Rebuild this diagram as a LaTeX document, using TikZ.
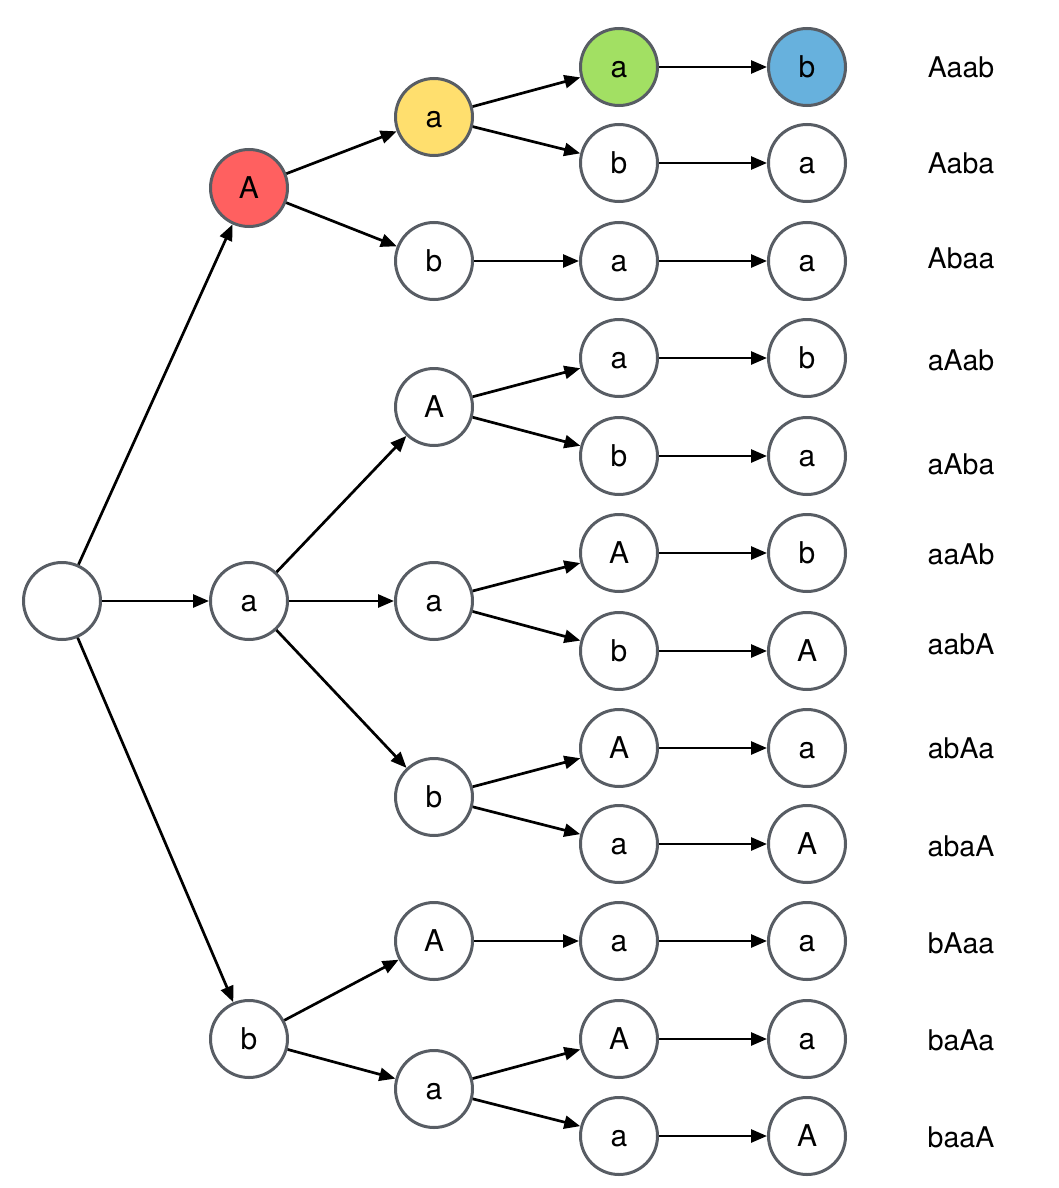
\documentclass[tikz,border=0pt]{standalone}
\usepackage{fontspec}
\setmainfont{TeX Gyre Heros}
\usetikzlibrary{arrows.meta, positioning}

\definecolor{ringgray}{HTML}{585D64}
\definecolor{fillred}{HTML}{FF6060}
\definecolor{fillyellow}{HTML}{FFDF6E}
\definecolor{fillgreen}{HTML}{A2E063}
\definecolor{fillblue}{HTML}{67B1DD}

\begin{document}
\begin{tikzpicture}
[->,
 >={Triangle[length=16pt,width=13pt]},
 x=1pt, y=-1pt,
 line width=2.7pt,
 node distance=188pt,
 letter/.style={circle, draw=ringgray, line width=3pt, fill=white,
 minimum size=77pt, inner sep=0pt, text height=21.6pt, text depth=0pt,
 font=\fontsize{30}{30}\selectfont},
 word/.style={font=\fontsize{28.5}{30}\selectfont},
]
\useasboundingbox (0,0) rectangle (1058,1188);

% tree levels
\node[letter]                  (root) at (62,601)  {};
\node[letter, fill=fillred]    (A)    at (249,188) {A};
\node[letter]                  (a)    at (249,601) {a};
\node[letter]                  (b)    at (249,1039) {b};

\node[letter, fill=fillyellow] (Aa)   at (434,117) {a};
\node[letter]                  (Ab)   at (434,261) {b};
\node[letter]                  (aA)   at (434,407) {A};
\node[letter]                  (aa)   at (434,601) {a};
\node[letter]                  (ab)   at (434,797) {b};
\node[letter]                  (bA)   at (434,941) {A};
\node[letter]                  (ba)   at (434,1089) {a};

\node[letter, fill=fillgreen]  (Aaa)  at (619,67)  {a};
\node[letter]                  (Aab)  at (619,163) {b};
\node[letter]                  (Aba)  at (619,261) {a};
\node[letter]                  (aAa)  at (619,358) {a};
\node[letter]                  (aAb)  at (619,456) {b};
\node[letter]                  (aaA)  at (619,553) {A};
\node[letter]                  (aab)  at (619,651) {b};
\node[letter]                  (abA)  at (619,748) {A};
\node[letter]                  (aba)  at (619,844) {a};
\node[letter]                  (bAa)  at (619,941) {a};
\node[letter]                  (baA)  at (619,1039) {A};
\node[letter]                  (baa)  at (619,1136) {a};

\node[letter, fill=fillblue, right of=Aaa] (Aaab) {b};
\node[letter, right of=Aab]    (Aaba) {a};
\node[letter, right of=Aba]    (Abaa) {a};
\node[letter, right of=aAa]    (aAab) {b};
\node[letter, right of=aAb]    (aAba) {a};
\node[letter, right of=aaA]    (aaAb) {b};
\node[letter, right of=aab]    (aabA) {A};
\node[letter, right of=abA]    (abAa) {a};
\node[letter, right of=aba]    (abaA) {A};
\node[letter, right of=bAa]    (bAaa) {a};
\node[letter, right of=baA]    (baAa) {a};
\node[letter, right of=baa]    (baaA) {A};

% words
\node[word] (w-Aaab) at (961,67)   {Aaab};
\node[word] (w-Aaba) at (961,163)  {Aaba};
\node[word] (w-Abaa) at (961,258)  {Abaa};
\node[word] (w-aAab) at (961,360)  {aAab};
\node[word] (w-aAba) at (961,464)  {aAba};
\node[word] (w-aaAb) at (961,554)  {aaAb};
\node[word] (w-aabA) at (961,644)  {aabA};
\node[word] (w-abAa) at (961,748)  {abAa};
\node[word] (w-abaA) at (961,846)  {abaA};
\node[word] (w-bAaa) at (961,943)  {bAaa};
\node[word] (w-baAa) at (961,1040) {baAa};
\node[word] (w-baaA) at (961,1137) {baaA};

\draw
(root) edge (A)   (root) edge (a)   (root) edge (b)
(A)    edge (Aa)  (A)    edge (Ab)
(a)    edge (aA)  (a)    edge (aa)  (a)    edge (ab)
(b)    edge (bA)  (b)    edge (ba)
(Aa)   edge (Aaa) (Aa)   edge (Aab) (Ab)   edge (Aba)
(aA)   edge (aAa) (aA)   edge (aAb)
(aa)   edge (aaA) (aa)   edge (aab)
(ab)   edge (abA) (ab)   edge (aba)
(bA)   edge (bAa)
(ba)   edge (baA) (ba)   edge (baa)
(Aaa)  edge (Aaab) (Aab) edge (Aaba) (Aba) edge (Abaa)
(aAa)  edge (aAab) (aAb) edge (aAba)
(aaA)  edge (aaAb) (aab) edge (aabA)
(abA)  edge (abAa) (aba) edge (abaA)
(bAa)  edge (bAaa) (baA) edge (baAa) (baa) edge (baaA);
\end{tikzpicture}
\end{document}
